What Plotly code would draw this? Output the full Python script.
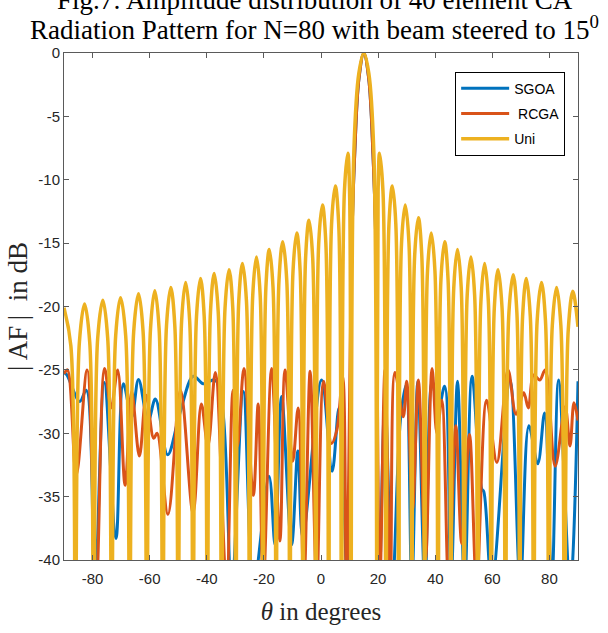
import plotly.graph_objects as go

# ---------------- data ----------------
# Uniform array (Uni): per lobe -> left shoulder, peak, right shoulder, null (nulls fall below the axis)
uni_theta = [
    -90.0, -87.6, -86.0,
    -84.6, -82.8, -81.0, -79.6,
    -78.2, -76.4, -74.7, -73.3,
    -71.9, -70.2, -68.4, -67.0,
    -65.6, -63.9, -62.3, -61.0,
    -59.7, -58.2, -56.7, -55.4,
    -54.1, -52.6, -51.2, -50.0,
    -48.8, -47.4, -46.0, -44.8,
    -43.6, -42.2, -40.9, -39.8,
    -38.7, -37.4, -36.0, -34.8,
    -33.6, -32.2, -30.9, -29.8,
    -28.8, -27.5, -26.1, -25.0,
    -23.9, -22.6, -21.3, -20.3,
    -19.3, -18.1, -16.8, -15.7,
    -14.7, -13.4, -12.0, -10.9,
    -9.8, -8.5, -7.3, -6.3,
    -5.4, -4.2, -2.9, -1.8,
    -0.8, 0.5, 1.7, 2.7,
    3.7, 5.0, 6.2, 7.2,
    8.2, 9.4, 10.0, 10.5,
    11.5, 13.25, 15.0, 16.75, 18.5, 19.6,
    20.0, 20.5, 21.7, 22.75,
    23.8, 25.0, 26.2, 27.2,
    28.2, 29.5, 30.8, 31.8,
    32.8, 34.1, 35.3, 36.3,
    37.3, 38.6, 39.9, 41.0,
    42.0, 43.3, 44.5, 45.5,
    46.5, 47.8, 49.1, 50.1,
    51.2, 52.5, 53.8, 54.9,
    56.0, 57.3, 58.6, 59.6,
    60.7, 62.0, 63.4, 64.6,
    65.8, 67.3, 68.6, 69.6,
    70.6, 71.9, 73.3, 74.5,
    75.7, 77.2, 78.6, 79.8,
    81.0, 82.5, 84.0, 85.3,
    86.6, 88.2, 90.0,
]
uni_db = [
    -20.1, -23.1, -45,
    -22.8, -19.8, -22.8, -45,
    -22.5, -19.5, -22.5, -45,
    -22.3, -19.3, -22.3, -45,
    -22.0, -19.0, -22.0, -45,
    -21.75, -18.75, -21.75, -45,
    -21.5, -18.5, -21.5, -45,
    -21.1, -18.1, -21.1, -45,
    -20.8, -17.8, -20.8, -45,
    -20.4, -17.4, -20.4, -45,
    -20.1, -17.1, -20.1, -45,
    -19.6, -16.6, -19.6, -45,
    -19.1, -16.1, -19.1, -45,
    -18.5, -15.5, -18.5, -45,
    -17.9, -14.9, -17.9, -45,
    -17.2, -14.2, -17.2, -45,
    -16.2, -13.2, -16.2, -45,
    -15.0, -12.0, -15.0, -45,
    -13.5, -10.5, -13.5, -45,
    -10.9, -7.9, -10.9, -45,
    -7.8, -1.6, 0.0, -1.6, -7.8, -45,
    -10.9, -7.9, -10.9, -45,
    -13.5, -10.5, -13.5, -45,
    -15.0, -12.0, -15.0, -45,
    -16.0, -13.0, -16.0, -45,
    -17.2, -14.2, -17.2, -45,
    -17.9, -14.9, -17.9, -45,
    -18.5, -15.5, -18.5, -45,
    -19.1, -16.1, -19.1, -45,
    -19.6, -16.6, -19.6, -45,
    -20.1, -17.1, -20.1, -45,
    -20.5, -17.5, -20.5, -45,
    -20.8, -17.8, -20.8, -45,
    -21.1, -18.1, -21.1, -45,
    -21.5, -18.5, -21.5, -45,
    -21.8, -18.8, -21.6,
]

# SGOA optimised pattern (local maxima / minima)
sgoa_theta = [-90.0, -89.0, -84.5, -82.2, -79.2, -75.9, -71.8, -69.2, -66.3, -63.9,
              -60.5, -58.0, -53.7, -49.5, -44.7, -41.2, -37.1, -34.5, -31.3, -27.2,
              -23.6, -18.2, -16.1, -13.8, -10.3, -8.1, -6.4, 0.2, 3.9, 6.3,
              9.3, 10.8, 11.8, 13.3, 15.0, 16.7, 18.2, 19.2, 20.4, 22.4,
              25.0, 27.8, 29.8, 31.8, 33.9, 36.4, 38.9, 41.1, 43.3, 45.5,
              47.8, 50.3, 52.9, 56.3, 57.0, 59.8, 66.2, 69.8, 72.8, 75.9,
              78.3, 80.8, 83.2, 87.3, 90.0]
sgoa_db = [-25.2, -25.4, -27.5, -26.6, -42, -26.0, -38.3, -26.1, -28.7, -25.75,
           -29.0, -27.3, -31.7, -28.5, -25.5, -26.1, -25.8, -28.0, -42, -26.7,
           -42, -33.4, -38.8, -27.1, -38.8, -31.4, -38.2, -25.8, -33.0, -28.0,
           -42, -15.0, -8.0, -2.0, 0.0, -2.0, -8.0, -15.0, -42, -27.4,
           -42, -29.0, -26.2, -42, -25.9, -42, -25.9, -28.1, -26.3, -42,
           -25.9, -42, -25.5, -34.4, -34.6, -42, -25.8, -42, -29.4, -32.4,
           -28.4, -42, -25.8, -42, -25.9]

# RCGA optimised pattern
rcga_theta = [-90.0, -88.8, -85.7, -81.9, -78.7, -75.8, -73.5, -71.2, -68.6, -66.3,
              -63.6, -61.2, -58.6, -57.4, -53.6, -49.2, -44.8, -41.9, -39.6, -37.0,
              -33.1, -30.8, -29.2, -27.0, -23.7, -22.0, -20.2, -17.3, -14.4, -12.6,
              -9.9, -8.0, -6.0, -3.8, -1.5, 0.9, 3.7, 5.5, 7.6, 8.9,
              10.8, 11.8, 13.3, 15.0, 16.7, 18.2, 19.2, 20.6, 22.4, 24.3,
              25.9, 28.8, 30.0, 32.1, 34.1, 36.6, 38.9, 40.6, 42.3, 44.7,
              47.2, 49.3, 52.0, 54.5, 58.0, 61.6, 65.5, 68.3, 71.0, 72.6,
              74.5, 76.6, 78.5, 82.0, 85.5, 87.2, 88.6, 90.0]
rcga_db = [-25.3, -25.0, -33.3, -25.0, -42, -24.9, -28.0, -25.0, -34.1, -26.7,
           -31.8, -27.0, -30.4, -30.0, -36.4, -26.6, -36.3, -27.7, -31.0, -25.2,
           -42, -26.6, -31.0, -24.9, -34.9, -27.7, -42, -24.9, -38.5, -25.0,
           -32.2, -28.0, -42, -25.1, -42, -25.9, -30.8, -29.8, -25.5, -42,
           -15.0, -8.0, -2.0, 0.0, -2.0, -8.0, -15.0, -42, -25.0, -42,
           -25.2, -28.7, -25.9, -36.0, -25.8, -40.0, -24.9, -30.0, -27.4, -42,
           -29.4, -38.7, -30.1, -42, -27.4, -32.3, -25.0, -28.5, -26.8, -28.0,
           -25.4, -25.8, -25.0, -32.6, -27.9, -31.0, -27.6, -29.0]

x_ticks = [-80, -60, -40, -20, 0, 20, 40, 60, 80]
y_ticks = [0, -5, -10, -15, -20, -25, -30, -35, -40]

series_names = ["SGOA", " RCGA", "Uni"]
series_colors = ["#0072BD", "#D95319", "#EDB120"]

# ---------------- figure ----------------
fig = go.Figure()
data = [(sgoa_theta, sgoa_db), (rcga_theta, rcga_db), (uni_theta, uni_db)]
widths = [3, 3, 3.5]
smooth = [1.0, 1.0, 1.0]
for i, ((tx, ty), name, col) in enumerate(zip(data, series_names, series_colors)):
    fig.add_trace(go.Scatter(
        x=tx, y=ty, mode="lines", name=name, legendgroup=f"g{i}",
        line=dict(color=col, width=widths[i], shape="spline", smoothing=smooth[i]),
    ))

serif = "Liberation Serif, Times New Roman, serif"
sans = "Liberation Sans, Arial, sans-serif"

axis_common = dict(
    showgrid=False, zeroline=False, showline=True, linecolor="#5a5a5a", linewidth=1,
    mirror="ticks", ticks="inside", ticklen=5, tickcolor="#5a5a5a",
    tickfont=dict(family=sans, size=15, color="#262626"),
)

fig.update_layout(
    width=608, height=633,
    margin=dict(l=64, r=30, t=53, b=69),
    paper_bgcolor="white", plot_bgcolor="white",
    showlegend=True,
    legend=dict(
        x=0.761, y=0.963, xanchor="left", yanchor="top",
        bgcolor="white", bordercolor="black", borderwidth=1,
        font=dict(family=sans, size=14, color="black"),
        tracegroupgap=4, traceorder="grouped", itemwidth=48,
    ),
    xaxis=dict(range=[-90, 90], tickvals=x_ticks, ticktext=[str(v) for v in x_ticks],
               ticklabelstandoff=5,
               title=dict(text="<i>θ</i> in degrees",
                          font=dict(family=serif, size=25, color="#262626"), standoff=16),
               **axis_common),
    yaxis=dict(range=[-40, 0], tickvals=y_ticks, ticktext=[str(v) for v in y_ticks],
               title=dict(text="|\u2009AF\u2009|\u00a0\u00a0in dB",
                          font=dict(family=serif, size=27, color="#262626"), standoff=2),
               **axis_common),
    annotations=[
        dict(text="Fig.7: Amplitude distribution of 40 element CA", xref="paper", yref="paper",
             x=0.489, y=1.104, xanchor="center", yanchor="middle", showarrow=False,
             font=dict(family=serif, size=27, color="black")),
        dict(text="Radiation Pattern for N=80 with beam steered to 15<sup>0</sup>",
             xref="paper", yref="paper", x=0.488, y=1.05, xanchor="center", yanchor="middle",
             showarrow=False, font=dict(family=serif, size=27, color="black")),
    ],
)

fig.write_html("out.html")
